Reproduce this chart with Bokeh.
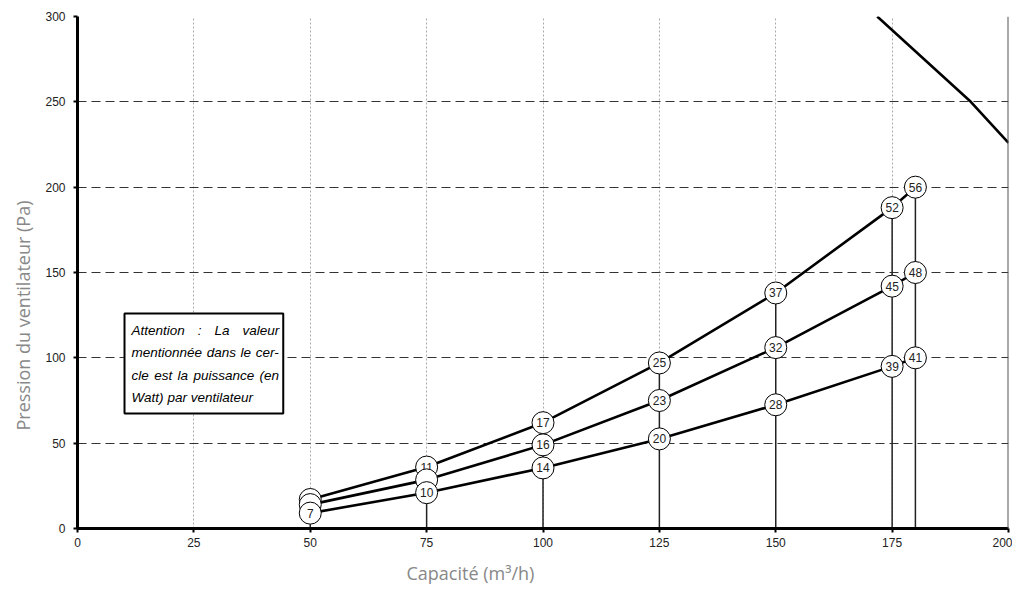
from bokeh.plotting import figure
from bokeh.models import Range1d, FixedTicker, Span, BoxAnnotation, Label, Title
from bokeh.core.properties import value
from bokeh.embed import file_html
from bokeh.resources import INLINE

# ---- data ----
capacity = [50, 75, 100, 125, 150, 175, 180]
p_high = [17, 36, 62, 97, 138, 188, 200]
p_mid = [14, 28.5, 49, 75, 106, 142, 150]
p_low = [9, 21, 35.5, 52.5, 72.5, 95, 100]
w_high = ["", "11", "17", "25", "37", "52", "56"]
w_mid = ["", "", "16", "23", "32", "45", "48"]
w_low = ["7", "10", "14", "20", "28", "39", "41"]

fan_capacity = [171.8, 191.9, 200]
fan_pressure = [300, 250, 226]

x_ticks = [0, 25, 50, 75, 100, 125, 150, 175, 200]
y_ticks = [0, 50, 100, 150, 200, 250, 300]

note_lines = [
    "Attention : La valeur",
    "mentionnée dans le cer-",
    "cle est la puissance (en",
    "Watt) par ventilateur",
]

FONT = "Liberation Sans"
FRAME_W, FRAME_H = 933, 512

p = figure(width=1012, height=593, x_range=Range1d(0, 200), y_range=Range1d(0, 300),
           output_backend="svg", toolbar_location=None,
           min_border_left=75, min_border_right=4, min_border_top=16, min_border_bottom=65)
p.outline_line_color = None
p.background_fill_color = "white"

# axes
for ax in (p.xaxis[0], p.yaxis[0]):
    ax.axis_line_width = 3
    ax.axis_line_color = "black"
    ax.major_tick_out = 4
    ax.major_tick_in = 0
    ax.major_tick_line_color = "black"
    ax.major_tick_line_width = 2
    ax.minor_tick_line_color = None
    ax.major_label_text_font = FONT
    ax.major_label_text_font_size = "12px"
    ax.major_label_text_color = "#222222"
p.xaxis.ticker = FixedTicker(ticks=x_ticks)
p.yaxis.ticker = FixedTicker(ticks=y_ticks)
p.xaxis.major_label_standoff = 5
p.yaxis.major_label_standoff = 8

# axis titles (offset from frame centre as in the reference)
p.add_layout(Title(text="Pression du ventilateur (Pa)", align="left", offset=98,
                   text_font="Open Sans", text_font_style="normal", text_font_size="18px",
                   text_color="#888888", standoff=16), "left")
p.add_layout(Title(text="Capacité (m³/h)", align="left", offset=329,
                   text_font="Open Sans", text_font_style="normal", text_font_size="18px",
                   text_color="#888888", standoff=18), "below")

# grids
p.ygrid.ticker = FixedTicker(ticks=y_ticks)
p.ygrid.grid_line_color = "#333333"
p.ygrid.grid_line_dash = "9 5"
p.ygrid.grid_line_width = 1
p.xgrid.ticker = FixedTicker(ticks=x_ticks)
p.xgrid.grid_line_color = "#aaaaaa"
p.xgrid.grid_line_dash = "2 2"
p.xgrid.grid_line_width = 1

p.add_layout(Span(location=200, dimension="height", line_color="#555555", line_width=2))

# drop lines
p.segment(x0=capacity, y0=[0] * len(capacity), x1=capacity, y1=p_high,
          line_color="#222222", line_width=1.5)

# curves
for ys in (p_high, p_mid, p_low):
    p.line(capacity, ys, line_color="black", line_width=2.6)
p.line(fan_capacity, fan_pressure, line_color="black", line_width=2.6)

# circles with labels
for ys, labels in ((p_high, w_high), (p_mid, w_mid), (p_low, w_low)):
    p.scatter(capacity, ys, size=22, fill_color="white", line_color="black", line_width=1)
    p.text(capacity, ys, text=labels, text_align="center", text_baseline="middle",
           text_font=value(FONT), text_font_size="12px", text_color="#222222")

# note box
p.add_layout(BoxAnnotation(left=10.1, right=44.2, bottom=67.4, top=126,
                           fill_color="white", fill_alpha=1, line_color="black",
                           line_alpha=1, line_width=2))

# Arial advance widths (per 1000 em) for justified text
AW = {" ": 278, "A": 667, "t": 278, "e": 556, "n": 556, "i": 222, "o": 556, ":": 278,
      "L": 556, "a": 556, "v": 500, "l": 222, "u": 556, "r": 333, "m": 833, "é": 556,
      "d": 556, "s": 500, "c": 500, "-": 333, "p": 556, "(": 333, ")": 333, "W": 944}
NOTE_SIZE = 13.5
px_per_unit = FRAME_W / 200.0


def width_px(s):
    return sum(AW.get(ch, 556) for ch in s) / 1000.0 * NOTE_SIZE


note_y = [116, 103.3, 89.8, 77]
xl, xr = 11.6, 43.3
avail = (xr - xl) * px_per_unit
for i, (txt, yy) in enumerate(zip(note_lines, note_y)):
    words = txt.split(" ")
    justify = i < len(note_lines) - 1
    if justify and len(words) > 1:
        gap = (avail - sum(width_px(w) for w in words)) / (len(words) - 1)
    else:
        gap = width_px(" ")
    pos = 0.0
    for w in words:
        p.add_layout(Label(x=xl + pos / px_per_unit, y=yy, text=w, text_font=FONT,
                           text_font_size=f"{NOTE_SIZE}px", text_font_style="italic",
                           text_baseline="middle", text_align="left", text_color="black"))
        pos += width_px(w) + gap

open("out.html", "w").write(file_html(p, INLINE))
